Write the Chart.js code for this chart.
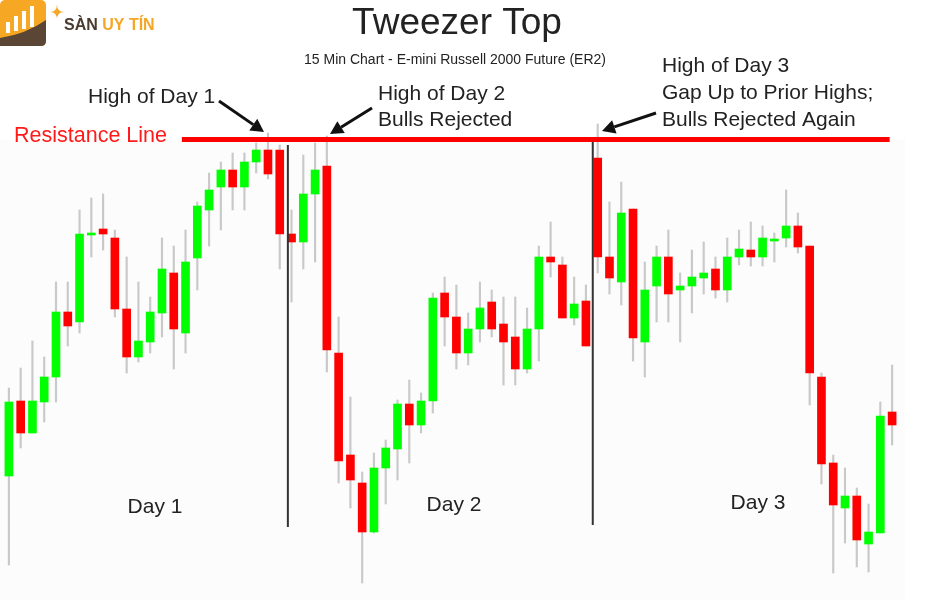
<!DOCTYPE html>
<html>
<head>
<meta charset="utf-8">
<script src="https://cdn.jsdelivr.net/npm/chart.js@4.4.1/dist/chart.umd.min.js"></script>
<style>
html,body{margin:0;padding:0;background:#ffffff;}
#wrap{position:relative;width:944px;height:600px;}
</style>
</head>
<body>
<div id="wrap"><canvas id="c"></canvas></div>
<script>
// ---- Data (15-min bars, E-mini Russell 2000) ----
const bars = Array.from({length: 76}, (_, i) => String(i + 1));
const opens = [712.4,719.9,716.7,719.8,722.3,728.8,727.8,736.5,737.1,736.2,729.1,724.3,725.8,728.7,732.7,726.7,734.2,739.0,741.3,743.0,741.3,743.8,745.0,745.0,
  736.6,735.8,740.6,743.4,724.7,714.5,711.7,706.8,713.2,715.1,719.6,717.5,719.9,730.7,728.3,724.7,727.1,729.8,727.6,726.3,723.1,727.1,734.3,733.5,728.2,729.9,
  744.2,734.3,731.8,739.1,725.8,731.4,734.3,731.0,731.4,732.2,733.1,731.0,734.3,735.0,734.3,735.9,736.2,737.4,735.4,722.3,713.7,709.2,710.4,705.6,706.7,718.8];
const highs = [721.2,723.2,725.9,724.3,731.8,731.8,739.0,740.2,740.6,737.0,734.3,731.8,730.3,736.2,735.4,737.0,739.8,742.7,743.8,744.7,744.7,745.7,746.7,745.5,
  739.0,744.5,745.7,746.4,728.3,720.3,712.8,714.7,716.0,720.0,722.0,720.7,730.7,732.3,731.5,728.7,731.8,731.0,730.3,730.3,729.2,735.4,737.8,734.3,732.3,731.5,
  747.6,739.8,741.8,739.1,733.8,735.4,737.0,732.7,735.0,735.8,734.3,736.2,737.0,737.8,737.4,736.7,741.0,738.7,735.4,722.7,714.5,713.2,711.2,709.6,719.8,723.5];
const lows = [703.5,715.2,716.7,717.8,719.8,725.4,726.7,734.3,735.0,728.3,722.7,723.8,724.7,726.3,723.1,724.7,731.0,735.4,737.0,739.0,739.0,742.7,742.1,733.1,
  729.8,733.1,733.8,722.8,711.7,709.2,701.7,706.7,709.6,712.0,713.7,716.7,718.7,725.4,723.1,723.5,725.8,726.3,721.5,721.5,722.7,723.9,732.3,728.2,727.5,725.4,
  732.7,730.6,729.5,723.9,722.3,727.8,727.8,725.8,728.7,730.6,730.2,729.8,733.5,733.4,733.4,733.8,735.3,734.7,719.5,711.6,702.7,705.7,703.3,702.8,706.7,715.5];
const closes = [719.8,716.7,719.9,722.3,728.8,727.4,736.6,736.7,736.6,729.1,724.3,725.9,728.8,733.1,727.1,733.8,739.4,741.0,743.0,741.3,743.8,745.0,742.6,736.6,
  735.8,740.6,743.0,725.0,713.9,712.0,706.8,713.2,715.2,719.6,717.5,719.9,730.2,728.3,724.7,727.1,729.2,727.1,725.8,723.1,727.1,734.3,733.8,728.2,729.6,725.4,
  734.3,732.2,738.7,726.2,731.0,734.3,730.6,731.4,732.3,732.7,731.0,734.3,735.1,734.3,736.2,736.1,737.4,735.3,722.7,713.6,709.5,710.4,706.0,706.8,718.4,717.5];
const resistanceLevel = 746.05;
const dayDividers = [23.69, 49.58];   // bar positions between sessions
const resistanceSpan = [14.69, 74.79]; // bar positions where the line starts / ends
const dayLabels = ["Day 1", "Day 2", "Day 3"];

const UP = '#00ff00', DOWN = '#ff0000', WICK = '#c9c9c9';
const bodyColors = opens.map((o, i) => closes[i] >= o ? UP : DOWN);
const FONT = '"Liberation Sans", Arial, sans-serif';

function drawArrow(ctx, x1, y1, x2, y2) {
  const ang = Math.atan2(y2 - y1, x2 - x1);
  const hl = 13, hw = 7;
  const bx = x2 - hl * Math.cos(ang), by = y2 - hl * Math.sin(ang);
  ctx.save();
  ctx.strokeStyle = '#111'; ctx.fillStyle = '#111';
  ctx.lineWidth = 3; ctx.lineCap = 'butt';
  ctx.beginPath(); ctx.moveTo(x1, y1); ctx.lineTo(bx, by); ctx.stroke();
  ctx.beginPath();
  ctx.moveTo(x2, y2);
  ctx.lineTo(bx + hw * Math.sin(ang), by - hw * Math.cos(ang));
  ctx.lineTo(bx - hw * Math.sin(ang), by + hw * Math.cos(ang));
  ctx.closePath(); ctx.fill();
  ctx.restore();
}

const decor = {
  id: 'decor',
  beforeDraw(chart) {
    const ctx = chart.ctx;
    ctx.save();
    ctx.fillStyle = '#ffffff';
    ctx.fillRect(0, 0, chart.width, chart.height);
    ctx.fillStyle = '#fcfcfc';
    ctx.fillRect(0, 140, 905, 460);
    ctx.restore();
  },
  afterDatasetsDraw(chart) {
    const ctx = chart.ctx;
    const xs = chart.scales.x, ys = chart.scales.y;
    const step = xs.getPixelForValue(1) - xs.getPixelForValue(0);
    const xAt = v => xs.getPixelForValue(0) + v * step;
    ctx.save();
    // day dividers
    ctx.strokeStyle = '#333'; ctx.lineWidth = 2;
    ctx.beginPath();
    ctx.moveTo(xAt(dayDividers[0]), 145); ctx.lineTo(xAt(dayDividers[0]), 527);
    ctx.moveTo(xAt(dayDividers[1]), 142); ctx.lineTo(xAt(dayDividers[1]), 525);
    ctx.stroke();
    // resistance line
    const ry = ys.getPixelForValue(resistanceLevel);
    ctx.strokeStyle = '#ff0000'; ctx.lineWidth = 5;
    ctx.beginPath(); ctx.moveTo(xAt(resistanceSpan[0]), ry); ctx.lineTo(xAt(resistanceSpan[1]), ry); ctx.stroke();

    // texts
    ctx.textBaseline = 'middle';
    ctx.fillStyle = '#ff1a1a';
    ctx.font = '21.5px ' + FONT; ctx.textAlign = 'left';
    ctx.fillText('Resistance Line', 14, 136);

    ctx.fillStyle = '#222';
    ctx.font = '37px ' + FONT; ctx.textAlign = 'center';
    ctx.fillText('Tweezer Top', 457, 24);
    ctx.font = '14px ' + FONT;
    ctx.fillText('15 Min Chart - E-mini Russell 2000 Future (ER2)', 455, 60);

    ctx.font = '21px ' + FONT; ctx.textAlign = 'left';
    ctx.fillText('High of Day 1', 88, 97);
    ctx.fillText('High of Day 2', 378, 94);
    ctx.fillText('Bulls Rejected', 378, 120);
    ctx.fillText('High of Day 3', 662, 66);
    ctx.fillText('Gap Up to Prior Highs;', 662, 93);
    ctx.fillText('Bulls Rejected Again', 662, 120);

    ctx.textAlign = 'center';
    ctx.fillText(dayLabels[0], 155, 507);
    ctx.fillText(dayLabels[1], 454, 505);
    ctx.fillText(dayLabels[2], 758, 503);

    drawArrow(ctx, 219, 101, 264, 132);
    drawArrow(ctx, 372, 108, 330, 134);
    drawArrow(ctx, 656, 113, 602, 131);

    // logo
    ctx.fillStyle = '#f6a723';
    ctx.beginPath(); ctx.roundRect(0, 0, 46, 46, 5); ctx.fill();
    ctx.fillStyle = '#5b4535';
    ctx.beginPath();
    ctx.moveTo(0, 38); ctx.quadraticCurveTo(26, 34, 46, 20); ctx.lineTo(46, 41);
    ctx.quadraticCurveTo(46, 46, 41, 46); ctx.lineTo(0, 46); ctx.closePath(); ctx.fill();
    ctx.fillStyle = '#ffffff';
    [[6, 22], [14, 16], [22, 11], [30, 6]].forEach(([bx, top]) => {
      ctx.fillRect(bx, top, 4, 33 - top - (bx - 6) * 0.25);
    });
    ctx.fillStyle = '#f6a723';
    ctx.beginPath();
    const sx = 57, sy = 12;
    ctx.moveTo(sx, sy - 8); ctx.quadraticCurveTo(sx, sy, sx + 7, sy);
    ctx.quadraticCurveTo(sx, sy, sx, sy + 8); ctx.quadraticCurveTo(sx, sy, sx - 7, sy);
    ctx.quadraticCurveTo(sx, sy, sx, sy - 8); ctx.fill();
    ctx.font = 'bold 16px ' + FONT; ctx.textAlign = 'left';
    ctx.fillStyle = '#4b3a2e';
    ctx.fillText('SÀN', 64, 26);
    const w1 = ctx.measureText('SÀN ').width;
    ctx.fillStyle = '#f5a623';
    ctx.fillText('UY TÍN', 64 + w1, 26);
    ctx.restore();
  }
};

new Chart(document.getElementById('c'), {
  type: 'bar',
  data: {
    labels: bars,
    datasets: [
      {
        label: 'Body',
        data: opens.map((o, i) => [o, closes[i]]),
        backgroundColor: bodyColors,
        borderWidth: 0,
        barThickness: 8,
        minBarLength: 2,
        grouped: false,
        order: 0
      },
      {
        label: 'Wick',
        data: lows.map((l, i) => [l, highs[i]]),
        backgroundColor: WICK,
        borderWidth: 0,
        barThickness: 1.5,
        grouped: false,
        order: 1
      }
    ]
  },
  options: {
    responsive: true,
    maintainAspectRatio: false,
    animation: false,
    devicePixelRatio: 1,
    layout: { padding: { left: 3, right: 46, top: 0, bottom: 0 } },
    plugins: { legend: { display: false }, tooltip: { enabled: false }, title: { display: false } },
    scales: {
      x: { type: 'category', offset: true, display: false, grid: { display: false } },
      y: { type: 'linear', min: 700, max: 760, display: false, grid: { display: false } }
    }
  },
  plugins: [decor]
});
</script>
</body>
</html>
